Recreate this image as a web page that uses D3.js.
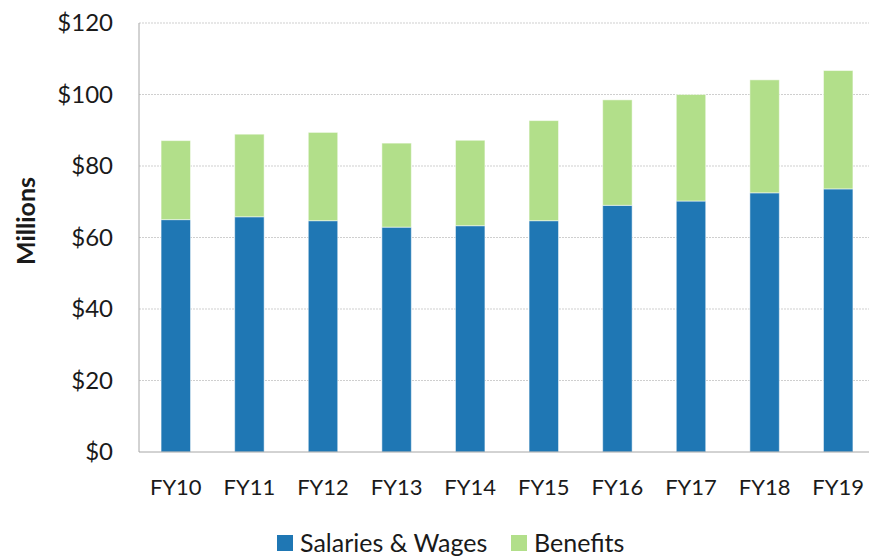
<!DOCTYPE html>
<html>
<head>
<meta charset="utf-8" />
<title>Salaries and Benefits</title>
<script src="https://d3js.org/d3.v7.min.js"></script>
<style>
  body { margin: 0; background: #fff; }
  text { font-family: Lato, "Open Sans", sans-serif; fill: #1a1a1a; }
</style>
</head>
<body>
<svg id="viz"></svg>
<script>
// values in $ millions
var years = ["FY10", "FY11", "FY12", "FY13", "FY14", "FY15", "FY16", "FY17", "FY18", "FY19"];
var salaries = [65.0, 65.8, 64.7, 62.9, 63.3, 64.7, 69.0, 70.2, 72.5, 73.6];
var benefits = [22.1, 23.1, 24.7, 23.5, 23.9, 28.0, 29.5, 29.8, 31.6, 33.1];
var yTicks = [0, 20, 40, 60, 80, 100, 120];
var seriesNames = ["Salaries & Wages", "Benefits"];
var colors = ["#1f77b4", "#b2df8a"];

var W = 869, H = 558;
var plotL = 139, plotR = 869, plotT = 23, plotB = 452;

var svg = d3.select("#viz").attr("width", W).attr("height", H);

var rows = years.map(function(y, i) {
  return { year: y, sal: salaries[i], ben: benefits[i] };
});
var stack = d3.stack().keys(["sal", "ben"])(rows);

// the plot area runs a little past the right edge of the picture
var x = d3.scaleBand().domain(years).range([plotL, 875]).paddingInner(0.6).paddingOuter(0.3);
var y = d3.scaleLinear().domain([0, 120]).range([plotB, plotT]);

// gridlines
svg.append("g").selectAll("line")
  .data(yTicks.filter(function(t) { return t > 0; }))
  .enter().append("line")
  .attr("x1", plotL).attr("x2", plotR)
  .attr("y1", function(d) { return y(d); }).attr("y2", function(d) { return y(d); })
  .attr("stroke", "#cfcfcf").attr("stroke-width", 1).attr("stroke-dasharray", "2,1");

// bars
svg.append("g").selectAll("g")
  .data(stack).enter().append("g")
  .attr("fill", function(d, i) { return colors[i]; })
  .selectAll("rect")
  .data(function(d) { return d; })
  .enter().append("rect")
  .attr("x", function(d) { return x(d.data.year); })
  .attr("width", x.bandwidth())
  .attr("y", function(d) { return y(d[1]); })
  .attr("height", function(d) { return y(d[0]) - y(d[1]); })
  .attr("stroke", "#fff").attr("stroke-opacity", 0.5).attr("stroke-width", 1);

// axes lines
svg.append("line").attr("x1", plotL).attr("x2", plotL).attr("y1", plotT).attr("y2", plotB)
  .attr("stroke", "#a6a6a6");
svg.append("line").attr("x1", plotL).attr("x2", plotR).attr("y1", plotB).attr("y2", plotB)
  .attr("stroke", "#a6a6a6");

// y tick labels
svg.append("g").selectAll("text")
  .data(yTicks).enter().append("text")
  .attr("x", 113).attr("y", function(d) { return y(d); })
  .attr("dy", "0.35em").attr("text-anchor", "end")
  .style("font-size", "24px")
  .text(function(d) { return "$" + d; });

// x labels
svg.append("g").selectAll("text")
  .data(years).enter().append("text")
  .attr("x", function(d) { return x(d) + x.bandwidth() / 2; })
  .attr("y", 495).attr("text-anchor", "middle")
  .style("font-size", "22px")
  .text(function(d) { return d; });

// y title
svg.append("text")
  .attr("transform", "translate(35,221) rotate(-90)")
  .attr("text-anchor", "middle")
  .style("font-size", "25px").style("font-weight", "bold")
  .text("Millions");

// legend
var legendX = [277, 511];
var lg = svg.append("g").selectAll("g")
  .data(seriesNames).enter().append("g")
  .attr("transform", function(d, i) { return "translate(" + legendX[i] + ",535)"; });
lg.append("rect").attr("width", 16).attr("height", 16)
  .attr("fill", function(d, i) { return colors[i]; });
lg.append("text").attr("x", 23).attr("y", 8).attr("dy", "0.35em")
  .style("font-size", "25px")
  .text(function(d) { return d; });
</script>
</body>
</html>
